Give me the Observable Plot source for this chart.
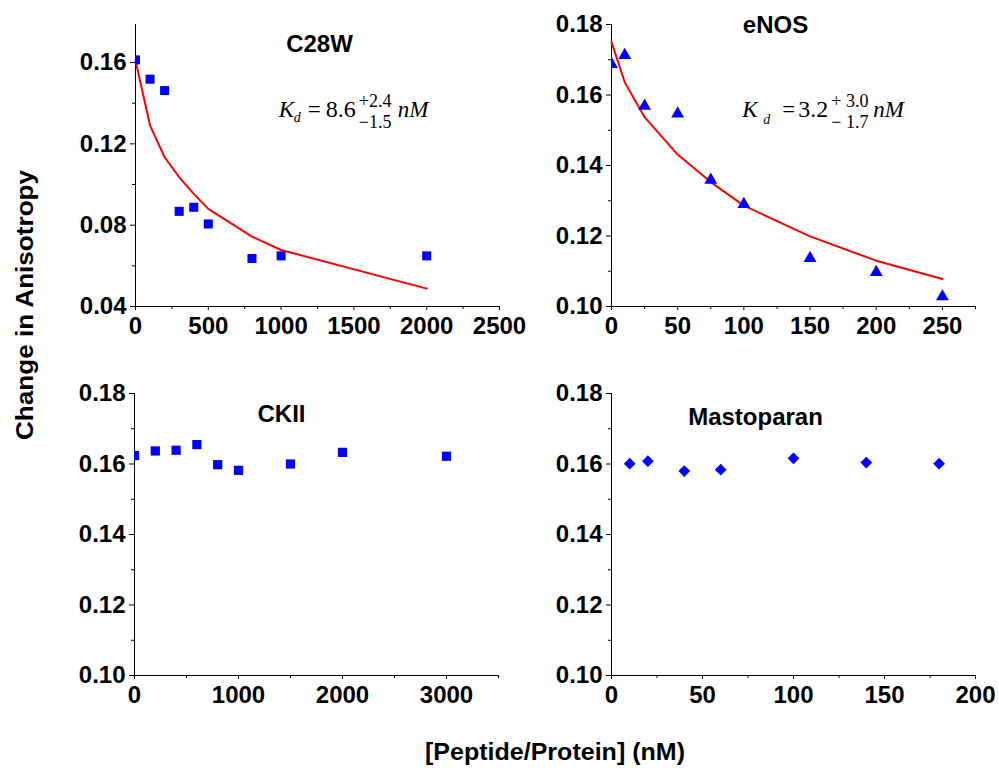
<!DOCTYPE html>
<html><head><meta charset="utf-8">
<script src="https://cdn.jsdelivr.net/npm/d3@7"></script>
<script src="https://cdn.jsdelivr.net/npm/@observablehq/plot@0.6"></script>
<style>
html,body{margin:0;padding:0;background:#fff;}
#root{position:relative;width:999px;height:768px;overflow:hidden;background:#fff;}
.panel{position:absolute;}
#titles{position:absolute;left:0;top:0;pointer-events:none;}
</style></head><body>
<div id="root"></div>
<script>
// ---- data ----
const c28wX   = [0, 100, 200, 300, 400, 500, 800, 1000, 2000];
const c28wY   = [0.1613, 0.1518, 0.1462, 0.0868, 0.0888, 0.0806, 0.0636, 0.0649, 0.0649];
const c28wFit = [0.161, 0.129, 0.1134, 0.1036, 0.0954, 0.088, 0.0744, 0.0678, 0.0488];
const c28wKd  = ["8.6", "+2.4", "\u22121.5"];

const enosX   = [0, 10, 25, 50, 75, 100, 150, 200, 250];
const enosY   = [0.1687, 0.1713, 0.1569, 0.1547, 0.1359, 0.1290, 0.1137, 0.1097, 0.1028];
const enosFit = [0.175, 0.1636, 0.1537, 0.1431, 0.1353, 0.1286, 0.1199, 0.1130, 0.1078];
const enosKd  = ["3.2", "+ 3.0", "\u2212 1.7"];

const ckiiX = [0, 200, 400, 600, 800, 1000, 1500, 2000, 3000];
const ckiiY = [0.1624, 0.1637, 0.1639, 0.1655, 0.1598, 0.1582, 0.1600, 0.1633, 0.1622];

const mastoX = [10, 20, 40, 60, 100, 140, 180];
const mastoY = [0.1601, 0.1608, 0.1580, 0.1584, 0.1616, 0.1604, 0.1601];

const panelNames = ["C28W", "eNOS", "CKII", "Mastoparan"];
const yTitle = "Change in Anisotropy";
const xTitle = "[Peptide/Protein] (nM)";

const xTicks = {
  c28w:  {major: [0, 500, 1000, 1500, 2000, 2500], minor: [250, 750, 1250, 1750, 2250]},
  enos:  {major: [0, 50, 100, 150, 200, 250], minor: [25, 75, 125, 175, 225, 275]},
  ckii:  {major: [0, 1000, 2000, 3000], minor: [500, 1500, 2500, 3500]},
  masto: {major: [0, 50, 100, 150, 200], minor: [25, 75, 125, 175]}
};
const yTicksTop1 = {major: [0.04, 0.08, 0.12, 0.16], minor: [0.06, 0.10, 0.14]};
const yTicksStd  = {major: [0.10, 0.12, 0.14, 0.16, 0.18], minor: [0.11, 0.13, 0.15, 0.17]};

// ---- helpers ----
const SANS = '"Liberation Sans", Arial, sans-serif';
const SERIF = '"Liberation Serif", "Times New Roman", serif';
const BLUE = "#0000ff", RED = "#ff0000";
const pts = (xs, ys) => xs.map((x, i) => ({x, y: ys[i]}));

function axes(xt, yt, xDomain, yDomain) {
  return [
    Plot.ruleX([xDomain[0]], {stroke: "black", strokeWidth: 1}),
    Plot.ruleY([yDomain[0]], {stroke: "black", strokeWidth: 1}),
    Plot.axisY(yt.minor, {tickSize: 3, tickFormat: () => "", label: null, stroke: "black"}),
    Plot.axisY(yt.major, {tickSize: 5, tickPadding: 4, tickFormat: d3.format(".2f"), label: null, stroke: "black",
      fontSize: 24, fontWeight: "bold", fontFamily: SANS}),
    Plot.axisX(xt.minor, {tickSize: 3, tickFormat: () => "", label: null, stroke: "black"}),
    Plot.axisX(xt.major, {tickSize: 4, tickPadding: 6, tickFormat: d => String(d), label: null, stroke: "black",
      fontSize: 24, fontWeight: "bold", fontFamily: SANS})
  ];
}

function title(name, dx, dy) {
  return Plot.text([name], {frameAnchor: "top-left", dx, dy, text: d => d, textAnchor: "middle", lineAnchor: "bottom",
    fontSize: 24, fontWeight: "bold", fontFamily: SANS, fill: "black"});
}

function kdMarks(ax, ay, kd, o) {
  const common = {x: () => ax, y: () => ay, text: d => d, fontFamily: SERIF, fontWeight: "normal",
    textAnchor: "start", lineAnchor: "bottom", fill: "black"};
  const piece = (t, dx, dy, size, italic) =>
    Plot.text([t], {...common, dx, dy, fontSize: size, fontStyle: italic ? "italic" : "normal"});
  return [
    piece("K", 0, 0, 23, true),
    piece("d", o.d, o.dd, 14, true),
    piece("=", o.eq, 0, 23, false),
    piece(kd[0], o.v, 0, 24, false),
    piece(kd[1], o.s, -10, 18, false),
    piece(kd[2], o.s, 11, 18, false),
    piece("nM", o.n, 0, 23, true)
  ];
}

function panel(cfg) {
  const chart = Plot.plot({
    width: cfg.width, height: cfg.height,
    marginLeft: cfg.ml, marginRight: cfg.mr, marginTop: cfg.mt, marginBottom: cfg.mb,
    x: {domain: cfg.xDomain},
    y: {domain: cfg.yDomain},
    style: {background: "transparent", overflow: "visible", color: "black", fontFamily: SANS},
    marks: [...axes(cfg.xt, cfg.yt, cfg.xDomain, cfg.yDomain), ...cfg.marks]
  });
  const div = document.createElement("div");
  div.className = "panel";
  div.style.left = cfg.left + "px";
  div.style.top = cfg.top + "px";
  div.style.width = cfg.width + "px";
  div.style.height = cfg.height + "px";
  div.appendChild(chart);
  document.getElementById("root").appendChild(div);
}

// ---- panels ----
panel({
  left: 0, top: 0, width: 520, height: 340, ml: 135, mr: 21, mt: 24, mb: 34,
  xDomain: [0, 2500], yDomain: [0.04, 0.1787], xt: xTicks.c28w, yt: yTicksTop1,
  marks: [
    Plot.line(pts(c28wX, c28wFit), {x: "x", y: "y", stroke: RED, strokeWidth: 2}),
    Plot.dot(pts(c28wX, c28wY), {x: "x", y: "y", symbol: "square", r: 5.1, fill: BLUE, clip: true}),
    title(panelNames[0], 184, 27.7),
    ...kdMarks(984, 0.1331, c28wKd, {d: 15, dd: 5, eq: 29, v: 47, s: 80, n: 119})
  ]
});

panel({
  left: 500, top: 0, width: 499, height: 340, ml: 111, mr: 24, mt: 24, mb: 34,
  xDomain: [0, 275], yDomain: [0.10, 0.18], xt: xTicks.enos, yt: yTicksStd,
  marks: [
    Plot.line(pts(enosX, enosFit), {x: "x", y: "y", stroke: RED, strokeWidth: 2}),
    Plot.dot(pts(enosX, enosY), {x: "x", y: "y", symbol: "triangle", r: 4.8, fill: BLUE, clip: true}),
    title(panelNames[1], 164, 8.3),
    ...kdMarks(98.8, 0.1537, enosKd, {d: 21, dd: 7, eq: 40, v: 56, s: 89, n: 131})
  ]
});

panel({
  left: 0, top: 360, width: 520, height: 360, ml: 134, mr: 22, mt: 33, mb: 45,
  xDomain: [0, 3500], yDomain: [0.10, 0.18], xt: xTicks.ckii, yt: yTicksStd,
  marks: [
    Plot.dot(pts(ckiiX, ckiiY), {x: "x", y: "y", symbol: "square", r: 5.2, fill: BLUE, clip: true}),
    title(panelNames[2], 147, 28.4)
  ]
});

panel({
  left: 500, top: 360, width: 499, height: 360, ml: 111, mr: 24, mt: 33, mb: 45,
  xDomain: [0, 200], yDomain: [0.10, 0.18], xt: xTicks.masto, yt: yTicksStd,
  marks: [
    Plot.dot(pts(mastoX, mastoY), {x: "x", y: "y", symbol: "diamond2", r: 5.3, fill: BLUE, clip: true}),
    title(panelNames[3], 144, 31.7)
  ]
});

// ---- shared axis titles ----
const svg = d3.select("#root").append("svg").attr("id", "titles").attr("width", 999).attr("height", 768);
svg.append("text")
  .attr("transform", "translate(33,305) rotate(-90)")
  .attr("text-anchor", "middle")
  .attr("textLength", 270).attr("lengthAdjust", "spacingAndGlyphs")
  .attr("font-family", SANS).attr("font-weight", "bold").attr("font-size", 24)
  .attr("fill", "black")
  .text(yTitle);
svg.append("text")
  .attr("x", 555).attr("y", 760)
  .attr("text-anchor", "middle")
  .attr("textLength", 260).attr("lengthAdjust", "spacingAndGlyphs")
  .attr("font-family", SANS).attr("font-weight", "bold").attr("font-size", 24)
  .attr("fill", "black")
  .text(xTitle);
</script>
</body></html>
